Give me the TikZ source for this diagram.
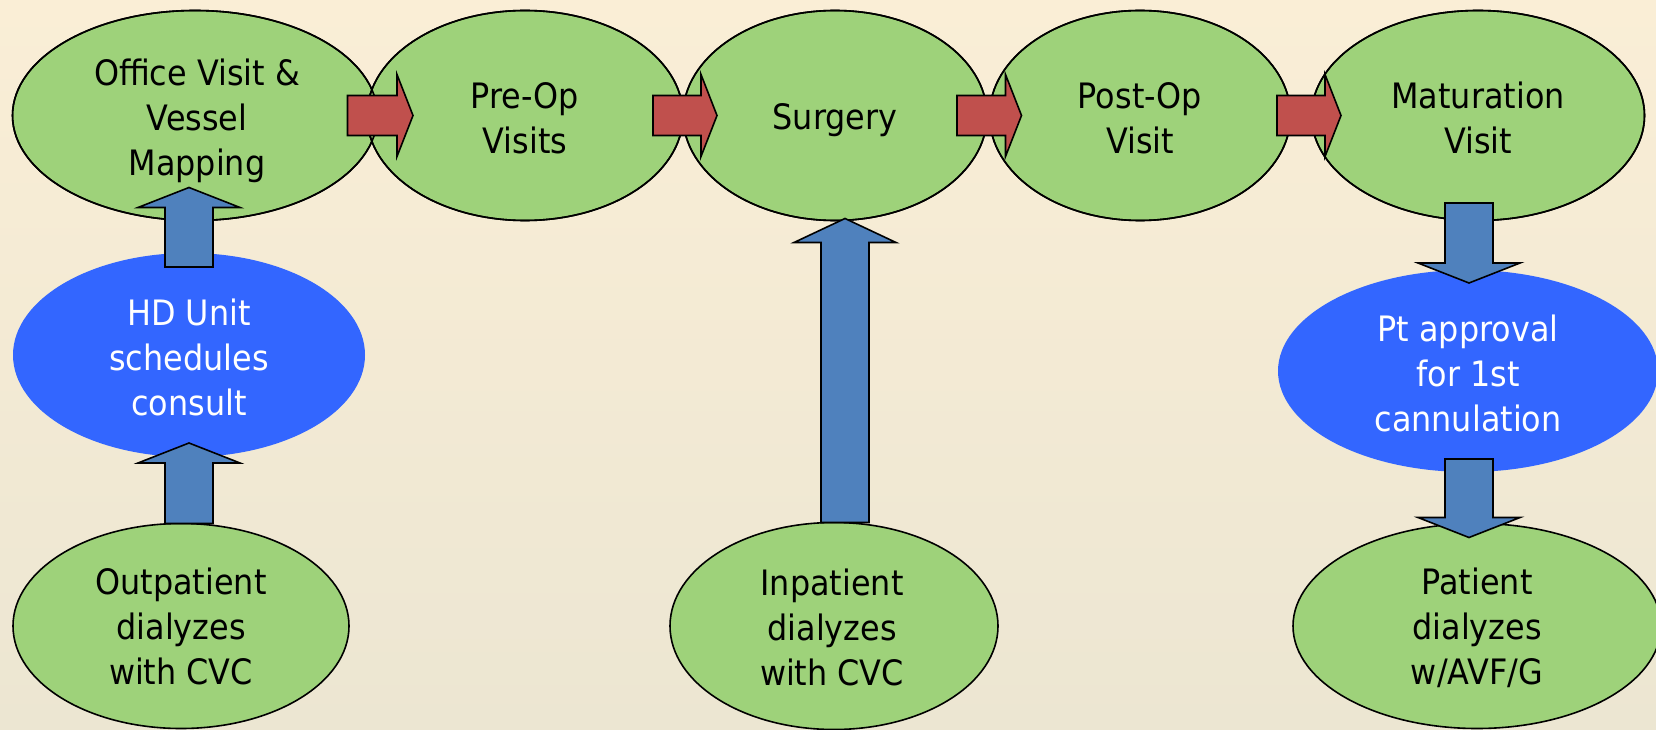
\documentclass[tikz,border=0pt]{standalone}
\usepackage{fontspec}
\setmainfont{DejaVu Sans}[FakeStretch=0.91]
\usetikzlibrary{shapes.geometric,calc}
\definecolor{bgtop}{RGB}{250,238,214}
\definecolor{bgbot}{RGB}{236,230,210}
\definecolor{ggreen}{RGB}{158,210,122}
\definecolor{bblue}{RGB}{51,102,255}
\definecolor{ablue}{RGB}{79,129,189}
\definecolor{rred}{RGB}{192,80,77}
\tikzset{
  ell/.style={ellipse, inner sep=0pt, outer sep=0pt},
  gell/.style={ell, fill=ggreen, draw=black, line width=1.6pt},
  bell/.style={ell, fill=bblue},
  txt/.style={inner sep=0pt, align=center, font=\fontsize{35}{45}\selectfont},
  wtxt/.style={txt, text=white},
  outl/.style={draw=black, line width=1.6pt},
  redarr/.style={fill=rred, draw=black, line width=1.6pt, line join=miter},
  bluearr/.style={fill=ablue, draw=black, line width=1.6pt, line join=miter}
}
\newcommand{\reoutline}[1]{%
  \draw[outl] let \p1=($(#1.east)-(#1.center)$), \p2=($(#1.north)-(#1.center)$) in
    (#1.center) ellipse [x radius=\x1, y radius=\y2];}
\newcommand{\blockarrow}[6]{% style, tail, tip, shaft half, head half, head length
  \coordinate (bah) at ($(#3)!#6!(#2)$);
  \draw[#1] ($(#2)!#4!90:(#3)$) -- ($(bah)!#4!90:(#3)$) -- ($(bah)!#5!90:(#3)$) -- (#3)
    -- ($(bah)!#5!-90:(#3)$) -- ($(bah)!#4!-90:(#3)$) -- ($(#2)!#4!-90:(#3)$) -- cycle;}
\begin{document}
\begin{tikzpicture}[x=1pt,y=-1pt]
\useasboundingbox (0,0) rectangle (1656,730);
\clip (0,0) rectangle (1656,730);
\shade[top color=bgtop, bottom color=bgbot] (0,0) rectangle (1656,730);

% top row
\node[gell, minimum width=365pt, minimum height=210pt] (office) at (195,115.5) {};
\node[gell, minimum width=316pt, minimum height=210pt] (preop) at (525,115.5) {};
\node[gell, minimum width=304pt, minimum height=210pt] (surg) at (835,115.5) {};
\node[gell, minimum width=301pt, minimum height=210pt] (postop) at (1140,115.5) {};
\node[gell, minimum width=333pt, minimum height=210pt] (mat) at (1478,115.5) {};
\reoutline{office}
\reoutline{preop}
\reoutline{surg}
\reoutline{postop}
\reoutline{mat}
\node[txt] (office-t) at ($(office.center)+(2,5)$) {Office Visit \&\\Vessel\\Mapping};
\node[txt] (preop-t) at ($(preop.center)+(0,3)$) {Pre-Op\\Visits};
\node[txt] (surg-t) at ($(surg.center)+(0,5)$) {Surgery};
\node[txt] (postop-t) at ($(postop.center)+(0,3)$) {Post-Op\\Visit};
\node[txt] (mat-t) at ($(mat.center)+(0,2)$) {Maturation\\Visit};

% other nodes
\node[bell, minimum width=352pt, minimum height=204pt] (hd) at (189,355) {};
\node[wtxt] (hd-t) at ($(hd.center)+(0,2)$) {HD Unit\\schedules\\consult};
\node[gell, minimum width=336pt, minimum height=205pt] (outp) at (181,626) {};
\node[txt] (outp-t) at (outp.center) {Outpatient\\dialyzes\\with CVC};
\node[gell, minimum width=328pt, minimum height=207pt] (inp) at (834,626) {};
\node[txt] (inp-t) at ($(inp.center)+(-2,1)$) {Inpatient\\dialyzes\\with CVC};
\node[bell, minimum width=380pt, minimum height=202pt] (pt) at (1468,371) {};
\node[wtxt] (pt-t) at ($(pt.center)+(0,2)$) {Pt approval\\for 1st\\cannulation};
\node[gell, minimum width=368pt, minimum height=205pt] (pat) at (1477,626) {};
\node[txt] (pat-t) at ($(pat.center)+(0,2)$) {Patient\\dialyzes\\w/AVF/G};

% red arrows
\coordinate (r1a) at ($(office.east)+(-30,0)$);
\coordinate (r1b) at ($(preop.west)+(46,0)$);
\blockarrow{redarr}{r1a}{r1b}{20pt}{41pt}{16pt}
\coordinate (r2a) at ($(preop.east)+(-30,0)$);
\coordinate (r2b) at ($(surg.west)+(34,0)$);
\blockarrow{redarr}{r2a}{r2b}{20pt}{41pt}{16pt}
\coordinate (r3a) at ($(surg.east)+(-30,0)$);
\coordinate (r3b) at ($(postop.west)+(32,0)$);
\blockarrow{redarr}{r3a}{r3b}{20pt}{41pt}{16pt}
\coordinate (r4a) at ($(postop.east)+(-13.5,0)$);
\coordinate (r4b) at ($(mat.west)+(29.5,0)$);
\blockarrow{redarr}{r4a}{r4b}{20pt}{41pt}{16pt}

% blue arrows
\coordinate (b1a) at ($(hd.south |- outp.north)$);
\coordinate (b1b) at ($(hd.south)+(0,-14)$);
\blockarrow{bluearr}{b1a}{b1b}{24pt}{51pt}{20pt}
\coordinate (b2a) at ($(hd.north)+(0,14)$);
\coordinate (b2b) at ($(hd.north |- office.south)+(0,-33)$);
\blockarrow{bluearr}{b2a}{b2b}{24pt}{51pt}{20pt}
\coordinate (b3a) at ($(inp.north)+(11,0)$);
\coordinate (b3b) at ($(b3a |- surg.south)+(0,-2)$);
\blockarrow{bluearr}{b3a}{b3b}{24pt}{51pt}{24pt}
\coordinate (b4a) at ($(pt.north)+(1,-67)$);
\coordinate (b4b) at ($(pt.north)+(1,13)$);
\blockarrow{bluearr}{b4a}{b4b}{24pt}{51pt}{20pt}
\coordinate (b5a) at ($(pt.south)+(1,-13)$);
\coordinate (b5b) at ($(b5a |- pat.north)+(0,14)$);
\blockarrow{bluearr}{b5a}{b5b}{24pt}{51pt}{20pt}
\end{tikzpicture}
\end{document}
